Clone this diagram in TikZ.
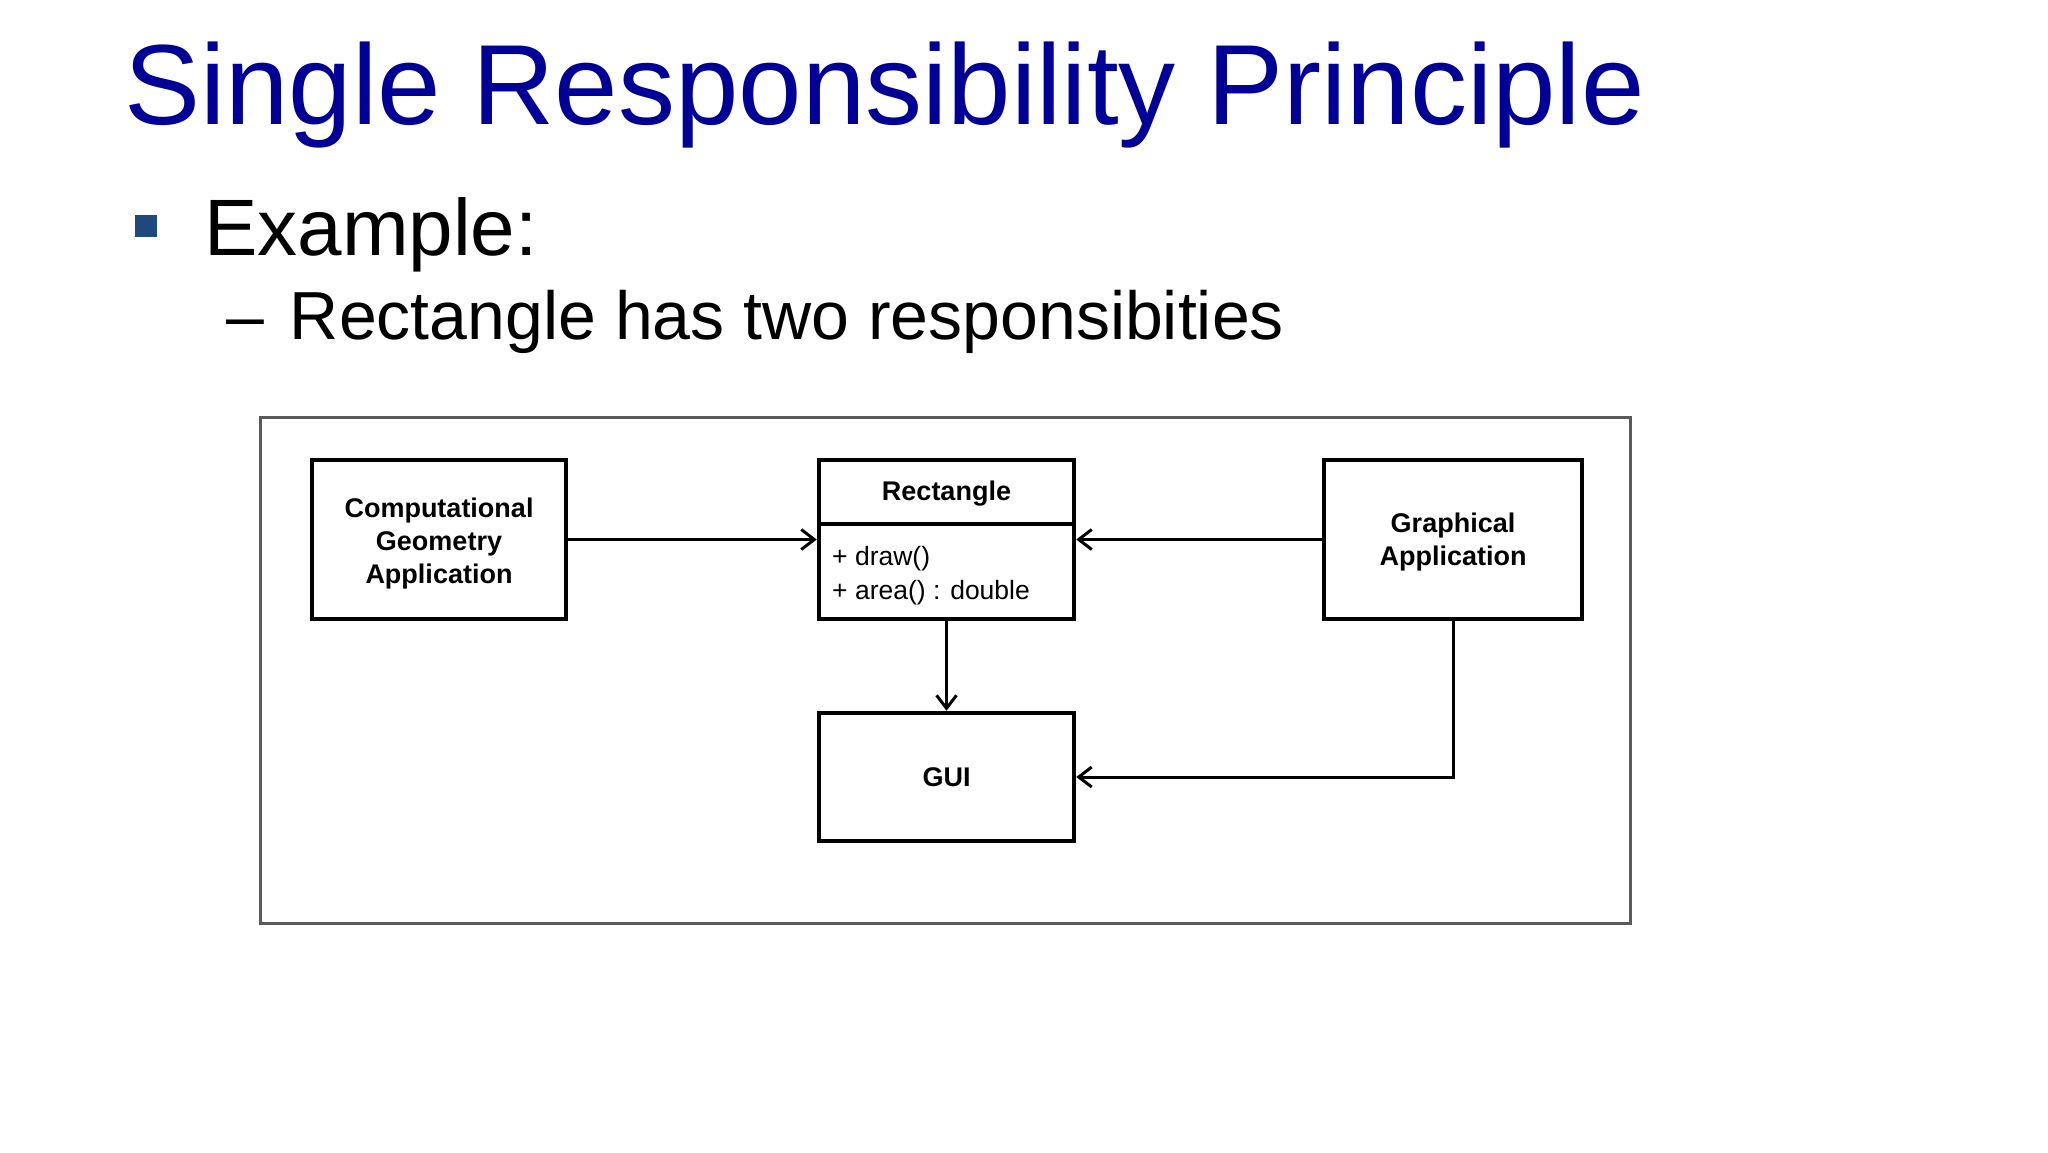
\documentclass[tikz,border=0pt]{standalone}
\usepackage{fontspec}
\setmainfont{Liberation Sans}
\usetikzlibrary{arrows.meta}
\definecolor{titleblue}{RGB}{0,0,150}
\definecolor{bulletblue}{RGB}{31,73,125}
\definecolor{framegray}{RGB}{90,90,90}
\tikzset{
  txt/.style={inner sep=0pt, anchor=base west},
  umlbox/.style={draw=black, fill=white, line width=4.5pt, inner sep=0pt},
  boxtext/.style={font=\fontsize{27}{33}\selectfont\bfseries, align=center, inner sep=0pt},
  methodtext/.style={font=\fontsize{26.5}{33}\selectfont, anchor=west, inner sep=0pt},
  conn/.style={draw=black, line width=3pt, -{Straight Barb[length=13pt,width=20pt,line width=3pt]}},
}
\begin{document}
\begin{tikzpicture}[x=1pt,y=-1pt]
\useasboundingbox (0,0) rectangle (2048,1152);
% title and bullets
\node[txt, text=titleblue, font=\fontsize{114}{120}\selectfont] (title) at (124,124) {Single Responsibility Principle};
\node[fill=bulletblue, minimum width=22pt, minimum height=22pt, inner sep=0pt] (bullet) at (146,226) {};
\node[txt, font=\fontsize{80}{90}\selectfont] (example) at (204,255) {Example:};
\node[txt, font=\fontsize{68}{80}\selectfont] (sub) at (226,339) {–\hspace{26pt}Rectangle has two responsibities};
% outer frame
\node[draw=framegray, line width=3pt, minimum width=1370pt, minimum height=506pt, inner sep=0pt] (frame) at (945,670) {};
% boxes
\node[umlbox, minimum width=254pt, minimum height=159pt] (cga) at (439,539.5) {};
\node[boxtext] (cgatext) at (439,543.5) {Computational\\Geometry\\Application};
\node[umlbox, minimum width=255pt, minimum height=159pt] (rect) at (946.5,539.5) {};
\node[boxtext] (recttitle) at (946.5,494) {Rectangle};
\coordinate (div) at (946.5,524);
\draw[line width=3.5pt] (rect.west |- div) -- (rect.east |- div);
\node[methodtext] (m1) at (832,559) {+ draw()};
\node[methodtext] (m2) at (832,593) {+ area() : double};
\node[umlbox, minimum width=258pt, minimum height=159pt] (ga) at (1453,539.5) {};
\node[boxtext] (gatext) at (1453,542.5) {Graphical\\Application};
\node[umlbox, minimum width=255pt, minimum height=128pt] (gui) at (946.5,777) {};
\node[boxtext] (guitext) at (946.5,777) {GUI};
% connectors
\draw[conn] (cga.east) -- (rect.west);
\draw[conn] (ga.west) -- (rect.east);
\draw[conn] (rect.south) -- (gui.north);
\draw[conn] (ga.south) |- (gui.east);
\end{tikzpicture}
\end{document}
